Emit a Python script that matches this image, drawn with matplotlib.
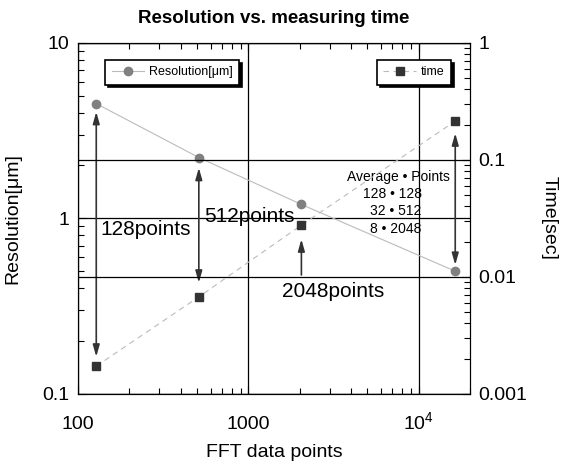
import numpy as np
import matplotlib.pyplot as plt
from matplotlib.ticker import FixedLocator, FixedFormatter, LogLocator, NullFormatter

plt.rcParams['font.family'] = ['Liberation Sans', 'DejaVu Sans']
plt.rcParams['mathtext.fontset'] = 'custom'
plt.rcParams['mathtext.rm'] = 'Liberation Sans'

# data
points = [128, 512, 2048, 16384]
resolution = [4.5, 2.22, 1.2, 0.5]
meas_time = [0.00173, 0.00675, 0.0277, 0.214]
averages = [128, 32, 8]
avg_points = [128, 512, 2048]

x_ticks = [100, 1000, 10000]
x_labels = ['100', '1000', r'$\mathregular{10^4}$']
y_ticks = [0.1, 1, 10]
y_labels = ['0.1', '1', '10']
t_ticks = [0.001, 0.01, 0.1, 1]
t_labels = ['0.001', '0.01', '0.1', '1']

fig = plt.figure(figsize=(5.63, 4.70), dpi=100)
ax = fig.add_axes([78/563, 1-394/470, 392/563, 351.3/470])
ax2 = ax.twinx()

ax.set_xscale('log')
ax.set_yscale('log')
ax2.set_yscale('log')
ax.set_xlim(100, 20000)
ax.set_ylim(0.1, 10)
ax2.set_ylim(0.001, 1)

l1, = ax.plot(points, resolution, '-', color='#bbbbbb', lw=0.8,
              marker='o', ms=6, mfc='#808080', mec='#808080',
              label='Resolution[μm]')
l2, = ax2.plot(points, meas_time, '--', color='#bbbbbb', lw=0.8,
               dashes=(5, 4), marker='s', ms=6, mfc='#333333', mec='#333333',
               label='time')

# ticks
ax.xaxis.set_major_locator(FixedLocator(x_ticks))
ax.xaxis.set_major_formatter(FixedFormatter(x_labels))
ax.xaxis.set_minor_locator(LogLocator(subs=np.arange(2, 10)))
ax.xaxis.set_minor_formatter(NullFormatter())
ax.yaxis.set_major_locator(FixedLocator(y_ticks))
ax.yaxis.set_major_formatter(FixedFormatter(y_labels))
ax.yaxis.set_minor_locator(LogLocator(subs=np.arange(2, 10)))
ax.yaxis.set_minor_formatter(NullFormatter())
ax2.yaxis.set_major_locator(FixedLocator(t_ticks))
ax2.yaxis.set_major_formatter(FixedFormatter(t_labels))
ax2.yaxis.set_minor_locator(LogLocator(subs=np.arange(2, 10)))
ax2.yaxis.set_minor_formatter(NullFormatter())

ax.tick_params(axis='x', which='both', direction='in', top=True, labelsize=14, pad=25)
ax.tick_params(axis='y', which='both', direction='in', right=False, labelsize=14, pad=6)
ax2.tick_params(axis='y', which='both', direction='in', labelsize=14, pad=6)
for a in (ax, ax2):
    a.tick_params(which='major', length=6, width=0.8)
    a.tick_params(which='minor', length=4, width=0.8)
    for s in a.spines.values():
        s.set_linewidth(0.8)
# keep 10^4 on the same baseline as the other labels
for tk in ax.xaxis.get_major_ticks():
    tk.label1.set_verticalalignment('baseline')

ax.grid(True, which='major', color='black', lw=0.9)
ax2.grid(True, which='major', axis='y', color='black', lw=0.9)

ax.set_xlabel('FFT data points', fontsize=14, labelpad=8)
ax.set_ylabel('Resolution[μm]', fontsize=14, labelpad=15)
ax2.set_ylabel('Time[sec]', fontsize=14, rotation=270, labelpad=22)
ax.set_title('Resolution vs. measuring time', fontsize=13.5, fontweight='bold', pad=14)

# arrows
arrow_kw = dict(arrowstyle='<|-|>,head_width=0.2,head_length=0.7', color='#333333', lw=1.2,
                shrinkA=0, shrinkB=0)
ax.annotate('', xy=(points[0], 4.04), xytext=(points[0], 0.163), arrowprops=arrow_kw)
ax.annotate('', xy=(points[1], 1.94), xytext=(points[1], 0.43), arrowprops=arrow_kw)
ax.annotate('', xy=(points[3], 3.05), xytext=(points[3], 0.543), arrowprops=arrow_kw)
ax.annotate('', xy=(points[2], 0.76), xytext=(points[2], 0.476),
            arrowprops=dict(arrowstyle='-|>,head_width=0.2,head_length=0.7', color='#333333',
                            lw=1.2, shrinkA=0, shrinkB=0))

ax.text(136, 0.86, '%dpoints' % avg_points[0], fontsize=15, va='center', ha='left')
ax.text(551, 1.02, '%dpoints' % avg_points[1], fontsize=15, va='center', ha='left')
ax.text(1578, 0.383, '%dpoints' % avg_points[2], fontsize=15, va='center', ha='left')

ax.text(7620, 1.73, 'Average • Points', fontsize=10, va='center', ha='center')
for av, pt, yy in zip(averages, avg_points, [1.37, 1.10, 0.87]):
    ax.text(10420, yy, '%d • %d' % (av, pt), fontsize=10, va='center', ha='right')

leg_kw = dict(fontsize=9, fancybox=False, framealpha=1, edgecolor='black',
              shadow={'color': 'black', 'alpha': 1}, handlelength=2.6,
              borderpad=0.5, handletextpad=0.4)
lg1 = ax.legend(handles=[l1], loc='upper left', bbox_to_anchor=(0.054, 0.968), **leg_kw)
lg1.get_frame().set_linewidth(1.2)
lg2 = ax2.legend(handles=[l2], loc='upper right', bbox_to_anchor=(0.967, 0.968), **leg_kw)
lg2.get_frame().set_linewidth(1.2)

fig.savefig('out.png', dpi=100)
